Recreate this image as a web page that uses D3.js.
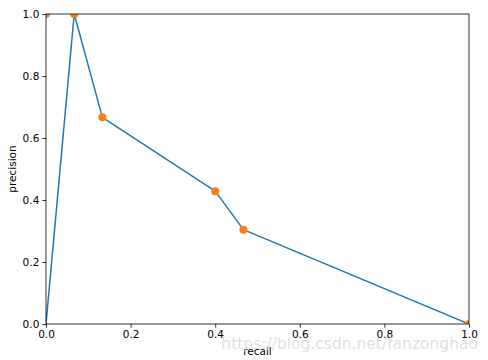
<!DOCTYPE html>
<html>
<head>
<meta charset="utf-8">
<script src="https://cdn.jsdelivr.net/npm/d3@7"></script>
<style>
  body { margin: 0; background: #fff; }
  text { font-family: "DejaVu Sans", sans-serif; }
</style>
</head>
<body>
<svg class="svg_parent"></svg>
<script>
// PR curve data
const recall = [0, 0.0667, 0.1333, 0.4, 0.4667, 1.0];
const precisionLine = [0, 1.0, 0.6667, 0.4286, 0.3043, 0];
const precisionDots = [1.0, 1.0, 0.6667, 0.4286, 0.3043, 0];
const xTicks = [0, 0.2, 0.4, 0.6, 0.8, 1.0];
const yTicks = [0, 0.2, 0.4, 0.6, 0.8, 1.0];

const width = 488, height = 360;
const margin = { top: 14, right: 19, bottom: 36, left: 46 };

const svg = d3.select('.svg_parent').attr('width', width).attr('height', height);

const x = d3.scaleLinear().domain([0, 1]).range([margin.left, width - margin.right]);
const y = d3.scaleLinear().domain([0, 1]).range([height - margin.bottom, margin.top]);

svg.append('clipPath').attr('id', 'clip')
  .append('rect')
  .attr('x', margin.left).attr('y', margin.top)
  .attr('width', x(1) - x(0)).attr('height', y(0) - y(1));

const plot = svg.append('g').attr('clip-path', 'url(#clip)');

//blue line
const lineGen = d3.line().x((d, i) => x(recall[i])).y(d => y(d));
plot.append('path')
  .attr('d', lineGen(precisionLine))
  .attr('fill', 'none')
  .attr('stroke', '#1f77b4')
  .attr('stroke-width', 1.5)
  .attr('stroke-linejoin', 'round');

//orange markers
plot.selectAll('circle').data(precisionDots).join('circle')
  .attr('cx', (d, i) => x(recall[i]))
  .attr('cy', d => y(d))
  .attr('r', 4)
  .attr('fill', '#ff7f0e');

//axes
const fmt = d3.format('.1f');
const xAxis = svg.append('g').attr('transform', `translate(0,${y(0)})`)
  .call(d3.axisBottom(x).tickValues(xTicks).tickFormat(fmt).tickSize(3.7).tickPadding(2.7));
const yAxis = svg.append('g').attr('transform', `translate(${x(0)},0)`)
  .call(d3.axisLeft(y).tickValues(yTicks).tickFormat(fmt).tickSize(3.7).tickPadding(3));
[xAxis, yAxis].forEach(a => {
  a.select('.domain').remove();
  a.selectAll('text').attr('font-size', 10.5).attr('fill', '#000').style('font-family', '"DejaVu Sans", sans-serif');
  a.selectAll('line').attr('stroke', '#000').attr('stroke-width', 0.8);
});

//frame
svg.append('rect')
  .attr('x', x(0)).attr('y', y(1))
  .attr('width', x(1) - x(0)).attr('height', y(0) - y(1))
  .attr('fill', 'none').attr('stroke', '#000').attr('stroke-width', 0.8);

//labels
svg.append('text').text('recall')
  .attr('x', (x(0) + x(1)) / 2).attr('y', 355)
  .attr('text-anchor', 'middle').attr('font-size', 10.5);
svg.append('text').text('precision')
  .attr('transform', `translate(16,${(y(0) + y(1)) / 2}) rotate(-90)`)
  .attr('text-anchor', 'middle').attr('font-size', 10.5);

//watermark
svg.append('text').text('https://blog.csdn.net/fanzonghao')
  .attr('x', 478).attr('y', 349)
  .attr('text-anchor', 'end').attr('font-size', 15.5)
  .attr('fill', '#d8d8d8').attr('fill-opacity', 0.8);
</script>
</body>
</html>
